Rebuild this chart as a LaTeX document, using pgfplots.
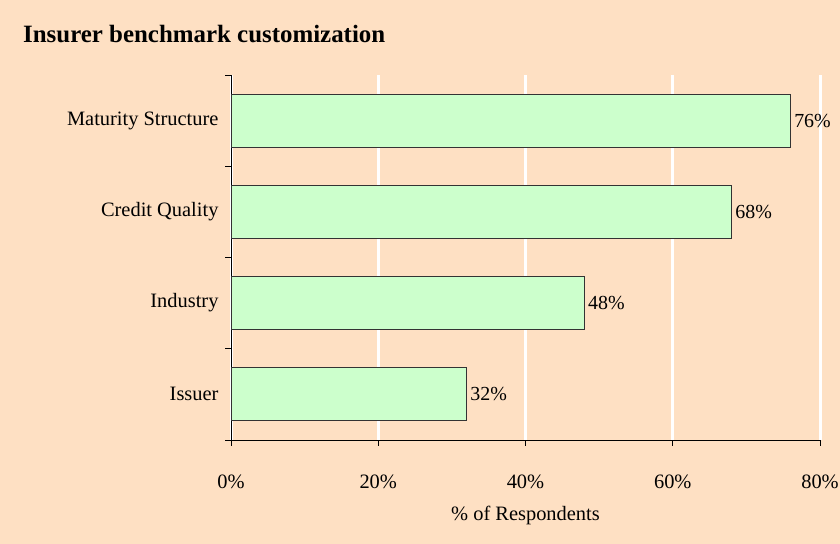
\documentclass[border=0pt]{standalone}
\usepackage{fontspec}
\setmainfont{Liberation Serif}
\usepackage{pgfplots}
\pgfplotsset{compat=1.18}
\definecolor{bgcol}{HTML}{FEE0C3}
\definecolor{barcol}{HTML}{CCFFCC}
\begin{document}
\begin{tikzpicture}[x=1bp,y=1bp]
\path[use as bounding box, fill=bgcol] (0,0) rectangle (840,544);
\node[anchor=base west, inner sep=0pt, font=\fontsize{25}{30}\selectfont\bfseries] at (23,501) {Insurer benchmark customization};
\begin{axis}[
  at={(231bp,104bp)}, anchor=south west,
  scale only axis, width=589bp, height=365bp,
  xbar, bar width=53bp,
  xmin=0, xmax=80, ymin=-0.5, ymax=3.5,
  clip=false,
  axis x line=bottom, axis y line=left,
  axis line style={-, black, line width=0.8bp},
  tick align=outside,
  major tick length=6bp,
  tick style={black, line width=0.8bp},
  xtick={0,20,40,60,80},
  xticklabels={0\%,20\%,40\%,60\%,80\%},
  ytick={-0.5,0.5,1.5,2.5,3.5},
  yticklabels={,,,,},
  extra y ticks={0,1,2,3},
  extra y tick labels={Issuer,Industry,Credit Quality,Maturity Structure},
  extra y tick style={major tick length=0pt},
  xmajorgrids=true,
  major x grid style={white, line width=3bp},
  tick label style={font=\fontsize{20.5}{24}\selectfont},
  xticklabel style={yshift=-25bp},
  yticklabel style={xshift=-9bp},
  xlabel={\% of Respondents},
  xlabel style={at={(axis description cs:0.5,0)}, anchor=north, yshift=-63bp, font=\fontsize{20.5}{24}\selectfont},
  /pgf/number format/assume math mode=true,
  point meta=x,
  nodes near coords={\pgfmathprintnumber{\pgfplotspointmeta}\%},
  nodes near coords style={anchor=west, font=\fontsize{20}{24}\selectfont, black},
]
\addplot[fill=barcol, draw=black!80, line width=0.8bp] coordinates {(32,0) (48,1) (68,2) (76,3)};
\end{axis}
\end{tikzpicture}
\end{document}
